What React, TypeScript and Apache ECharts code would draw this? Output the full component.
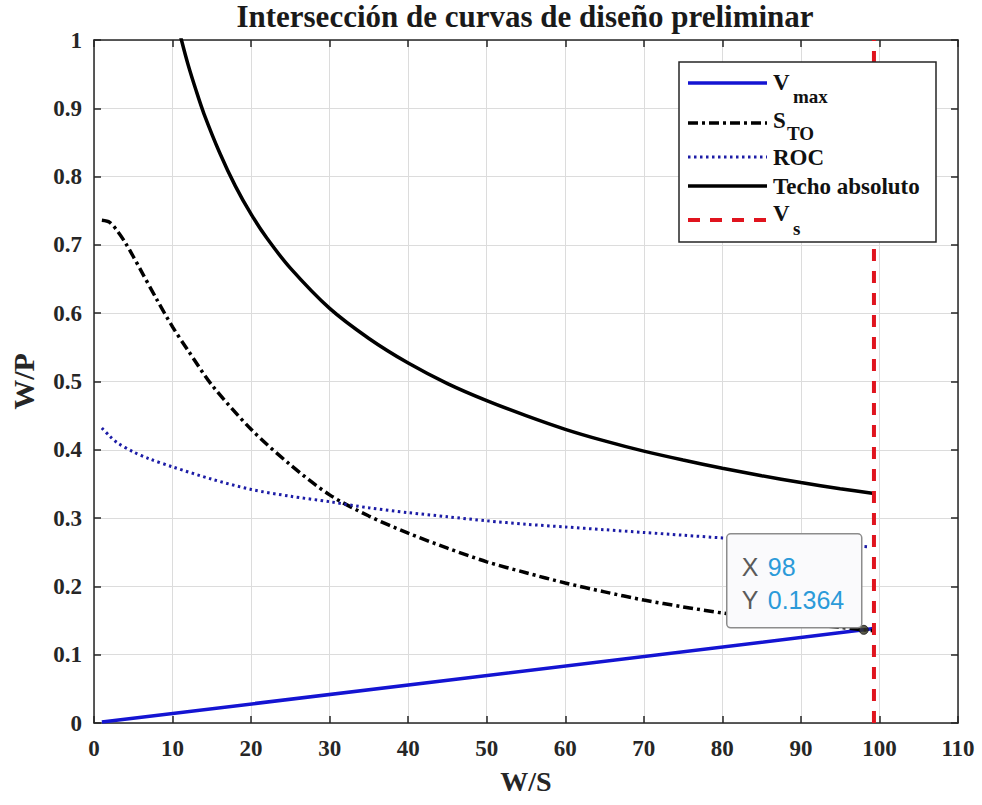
import React, { useEffect, useRef } from "react";
import * as echarts from "echarts";

// ---- data ----
const xMin = 0;
const xMax = 110;
const xStep = 10;
const yMin = 0;
const yMax = 1;
const yStep = 0.1;

const vmaxWS = [1, 98, 99.3];
const vmaxWP = [0.0014, 0.1364, 0.1382];

const stoWS = [1, 2, 3, 4, 5, 6, 8, 10, 12, 15, 20, 25, 30, 35, 40, 45, 50, 55, 60, 65, 70, 75, 80, 85, 90, 95, 98, 99.3];
const stoWP = [0.736, 0.733, 0.72, 0.703, 0.683, 0.662, 0.62, 0.58, 0.545, 0.495, 0.43, 0.378, 0.334, 0.303, 0.278, 0.256, 0.236, 0.22, 0.205, 0.192, 0.18, 0.17, 0.161, 0.153, 0.146, 0.14, 0.1364, 0.135];

const rocWS = [1, 2, 3, 5, 7, 10, 15, 20, 25, 30, 35, 40, 45, 50, 55, 60, 65, 70, 75, 80, 85, 90, 95, 98.6];
const rocWP = [0.432, 0.42, 0.41, 0.397, 0.387, 0.375, 0.357, 0.342, 0.332, 0.324, 0.315, 0.308, 0.302, 0.296, 0.291, 0.287, 0.283, 0.279, 0.275, 0.271, 0.268, 0.264, 0.261, 0.258];

const techoWS = [10.5, 11.2, 12, 13, 14, 16, 18, 20, 22, 25, 30, 35, 40, 45, 50, 55, 60, 65, 70, 75, 80, 85, 90, 95, 99.3];
const techoWP = [1.03, 0.997, 0.963, 0.926, 0.892, 0.835, 0.786, 0.745, 0.71, 0.666, 0.607, 0.563, 0.527, 0.497, 0.472, 0.45, 0.43, 0.413, 0.398, 0.385, 0.373, 0.362, 0.352, 0.343, 0.336];

const vsWS = [99.3, 99.3];
const vsWP = [0, 1];

const tipWS = 98;
const tipWP = 0.1364;

const titleText = "Intersección de curvas de diseño preliminar";
const xName = "W/S";
const yName = "W/P";
const legendMain = ["V", "S", "ROC", "Techo absoluto", "V"];
const legendSub = ["max", "TO", "", "", "s"];

const pairs = (xs: number[], ys: number[]) => xs.map((x, i) => [x, ys[i]]);

const SERIF = "'Liberation Serif', 'Times New Roman', Times, serif";
const SANS = "'Liberation Sans', Arial, Helvetica, sans-serif";
const AX = "#262626";

export default function App() {
  const ref = useRef<HTMLDivElement>(null);

  useEffect(() => {
    if (!ref.current) return;
    const chart = echarts.init(ref.current, undefined, { renderer: "svg" });

    // legend drawn as graphic (line samples + texts with subscripts)
    const lgLeft = 679;
    const lgTop = 62;
    const sampleX1 = 688;
    const sampleX2 = 767;
    const textX = 773;
    const lineY = [83, 123, 157, 186, 220];
    const mainY = [82, 120, 157, 186, 213];
    const subY = [96, 133, 0, 0, 228];
    const subX = [793, 787, 0, 0, 793];
    const sampleStyles: any[] = [
      { stroke: "#1414d2", lineWidth: 3.5 },
      { stroke: "#000", lineWidth: 3.5, lineDash: [10, 4, 3, 4] },
      { stroke: "#1c1ca6", lineWidth: 3, lineDash: [2.5, 3.5] },
      { stroke: "#000", lineWidth: 3.5 },
      { stroke: "#e0141e", lineWidth: 4, lineDash: [12, 10] },
    ];
    const legendEls: any[] = [
      {
        type: "rect",
        shape: { x: lgLeft, y: lgTop, width: 257, height: 180 },
        style: { fill: "#fff", stroke: AX, lineWidth: 1.5 },
        z: 100,
      },
    ];
    legendMain.forEach((m, i) => {
      legendEls.push({
        type: "line",
        shape: { x1: sampleX1, y1: lineY[i], x2: sampleX2, y2: lineY[i] },
        style: sampleStyles[i],
        z: 101,
      });
      legendEls.push({
        type: "text",
        x: textX,
        y: mainY[i],
        style: {
          text: m,
          fill: "#111",
          font: `bold 23px ${SERIF}`,
          verticalAlign: "middle",
          align: "left",
        },
        z: 101,
      });
      if (legendSub[i]) {
        legendEls.push({
          type: "text",
          x: subX[i],
          y: subY[i],
          style: {
            text: legendSub[i],
            fill: "#111",
            font: `bold 19px ${SERIF}`,
            verticalAlign: "middle",
            align: "left",
          },
          z: 101,
        });
      }
    });

    const axisLabel = {
      fontFamily: SERIF,
      fontWeight: "bold",
      fontSize: 23,
      color: AX,
    };
    const axisLine = { show: true, onZero: false, lineStyle: { color: AX, width: 1.5 } };
    const axisTick = { show: true, inside: true, length: 7, lineStyle: { color: AX, width: 1.5 } };
    const splitLine = { show: true, lineStyle: { color: "#dcdcdc", width: 1 } };

    const lineBase = { type: "line", showSymbol: false, symbol: "none", silent: true };

    const option: any = {
      animation: false,
      backgroundColor: "#ffffff",
      title: {
        text: titleText,
        left: 525,
        top: 1,
        textAlign: "center",
        padding: 0,
        textStyle: { fontFamily: SERIF, fontWeight: "bold", fontSize: 31, color: "#1a1a1a" },
      },
      grid: { left: 92, right: 24, top: 40, bottom: 82, containLabel: false },
      xAxis: [
        {
          type: "value",
          min: xMin,
          max: xMax,
          interval: xStep,
          position: "bottom",
          name: xName,
          nameLocation: "middle",
          nameGap: 44,
          nameTextStyle: { fontFamily: SERIF, fontWeight: "bold", fontSize: 28, color: AX },
          axisLine,
          axisTick,
          axisLabel: { ...axisLabel, margin: 14 },
          splitLine,
        },
        {
          type: "value",
          min: xMin,
          max: xMax,
          interval: xStep,
          position: "top",
          axisLine,
          axisTick,
          axisLabel: { show: false },
          splitLine: { show: false },
        },
      ],
      yAxis: [
        {
          type: "value",
          min: yMin,
          max: yMax,
          interval: yStep,
          position: "left",
          name: yName,
          nameLocation: "middle",
          nameGap: 56,
          nameRotate: 90,
          nameTextStyle: { fontFamily: SERIF, fontWeight: "bold", fontSize: 30, color: AX },
          axisLine,
          axisTick,
          axisLabel: { ...axisLabel, margin: 12 },
          splitLine,
        },
        {
          type: "value",
          min: yMin,
          max: yMax,
          interval: yStep,
          position: "right",
          axisLine,
          axisTick,
          axisLabel: { show: false },
          splitLine: { show: false },
        },
      ],
      graphic: legendEls,
      series: [
        {
          ...lineBase,
          name: "Vmax",
          data: pairs(vmaxWS, vmaxWP),
          lineStyle: { color: "#1414d2", width: 3.5 },
        },
        {
          ...lineBase,
          name: "STO",
          data: pairs(stoWS, stoWP),
          smooth: 0.3,
          lineStyle: { color: "#000", width: 3.5, type: [10, 4, 3, 4] },
        },
        {
          ...lineBase,
          name: "ROC",
          data: pairs(rocWS, rocWP),
          smooth: 0.3,
          lineStyle: { color: "#1c1ca6", width: 3, type: [2.5, 3.5] },
        },
        {
          ...lineBase,
          name: "Techo absoluto",
          data: pairs(techoWS, techoWP),
          smooth: 0.3,
          clip: true,
          lineStyle: { color: "#000", width: 3.5 },
        },
        {
          ...lineBase,
          name: "Vs",
          data: pairs(vsWS, vsWP),
          lineStyle: { color: "#e0141e", width: 4, type: [12, 10] },
        },
        {
          name: "datatip",
          type: "scatter",
          data: [[tipWS, tipWP]],
          symbol: "circle",
          symbolSize: 9,
          silent: true,
          z: 20,
          itemStyle: { color: "#33331f", borderColor: "#111", borderWidth: 1 },
        },
      ],
    };

    chart.setOption(option);

    // data tip box placed from the data point through the axes' scales
    const pt = chart.convertToPixel({ xAxisIndex: 0, yAxisIndex: 0 }, [tipWS, tipWP]) as number[];
    const px = pt[0];
    const py = pt[1];
    const tipFont = `25px ${SANS}`;
    const tipEls: any[] = [
      {
        type: "rect",
        shape: { x: px - 137, y: py - 96, width: 135, height: 94, r: 4 },
        style: { fill: "#fafafc", stroke: "#8c8c8c", lineWidth: 1.5 },
        z: 120,
      },
      {
        type: "text",
        x: px - 122,
        y: py - 63,
        style: { text: "X", fill: "#5a5a5a", font: tipFont, verticalAlign: "middle", align: "left" },
        z: 121,
      },
      {
        type: "text",
        x: px - 96,
        y: py - 63,
        style: { text: String(tipWS), fill: "#2b9ad9", font: tipFont, verticalAlign: "middle", align: "left" },
        z: 121,
      },
      {
        type: "text",
        x: px - 122,
        y: py - 30,
        style: { text: "Y", fill: "#5a5a5a", font: tipFont, verticalAlign: "middle", align: "left" },
        z: 121,
      },
      {
        type: "text",
        x: px - 96,
        y: py - 30,
        style: { text: String(tipWP), fill: "#2b9ad9", font: tipFont, verticalAlign: "middle", align: "left" },
        z: 121,
      },
    ];
    chart.setOption({ graphic: [...legendEls, ...tipEls] });

    return () => chart.dispose();
  }, []);

  return (
    <div
      ref={ref}
      style={{ position: "absolute", left: 0, top: 0, width: 982, height: 805, background: "#fff" }}
    />
  );
}
